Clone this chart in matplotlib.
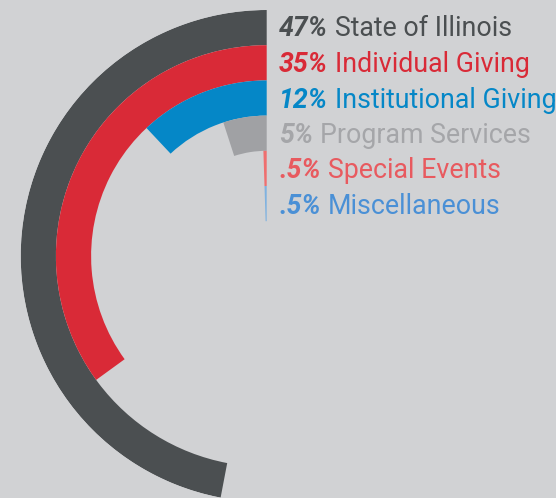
#!/usr/bin/env python3
"""
Revenue sources - radial bar chart
"""
import numpy as np
import matplotlib
matplotlib.use("Agg")
import matplotlib.pyplot as plt

# data
percents = [47, 35, 12, 5, 0.5, 0.5]
pct_labels = ["47%", "35%", "12%", "5%", ".5%", ".5%"]
names = ["State of Illinois", "Individual Giving", "Institutional Giving",
         "Program Services", "Special Events", "Miscellaneous"]
bar_colors = ["#4b4f51", "#d92a37", "#0587c7", "#a0a1a4", "#ef6f6f", "#7fb2e0"]
text_colors = ["#4b4f51", "#d92a37", "#0587c7", "#a5a6a9", "#e85a5f", "#4a90d6"]

W, H = 556, 498
BG = "#d1d2d4"

fig = plt.figure(figsize=(W / 100, H / 100), dpi=100, facecolor=BG)

# polar axes, radius in pixel units
cx, cy, R = 266.7, 256, 246
ax = fig.add_axes([(cx - R) / W, (H - cy - R) / H, 2 * R / W, 2 * R / H],
                  projection="polar")
ax.set_theta_zero_location("N")
ax.set_theta_direction(1)
ax.set_ylim(0, R)
ax.axis("off")
ax.patch.set_alpha(0)

ring = 35.2
for i, (p, c) in enumerate(zip(percents, bar_colors)):
    outer = R - i * ring
    ax.bar(0, ring, width=p / 100 * 2 * np.pi, bottom=outer - ring,
           align="edge", color=c, linewidth=0)

# labels
fig.canvas.draw()
renderer = fig.canvas.get_renderer()
x0 = 279
fs = 19.3
for i in range(len(names)):
    ybase = 36.5 + i * 35.5
    t = fig.text(x0 / W, 1 - ybase / H, pct_labels[i], fontsize=fs,
                 family="Roboto", weight="bold", style="italic",
                 color=text_colors[i], va="baseline", ha="left")
    bb = t.get_window_extent(renderer)
    fig.text((bb.x1 + 7) / W, 1 - ybase / H, names[i], fontsize=fs,
             family="Roboto", color=text_colors[i], va="baseline", ha="left")

fig.savefig("out.png", dpi=100, facecolor=BG)
